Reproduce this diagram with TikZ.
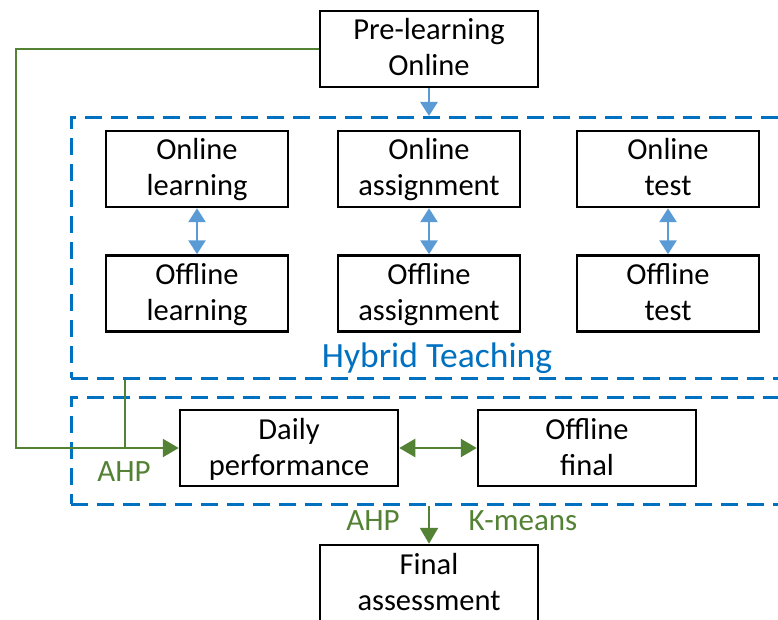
\documentclass[tikz,border=0pt]{standalone}
\usepackage{fontspec}
\setmainfont{Carlito}
\usetikzlibrary{arrows.meta, positioning}
\definecolor{dashblue}{RGB}{0,112,192}
\definecolor{arrowblue}{RGB}{91,155,213}
\definecolor{ahpgreen}{RGB}{84,130,53}

\begin{document}
\begin{tikzpicture}[x=1pt, y=-1pt,
  basic/.style  = {draw, line width=2.5pt, rectangle, align=center,
                   font=\fontsize{30.5}{36}\selectfont, inner sep=0pt,
                   text height=65pt, text depth=11pt},
  wide/.style   = {basic, minimum width=218pt, minimum height=76pt},
  small/.style  = {basic, minimum width=182pt, minimum height=76pt},
  group/.style  = {draw=dashblue, line width=2.8pt, dash pattern=on 17pt off 9pt,
                   rectangle, anchor=north west, inner sep=0pt},
  label/.style  = {text=ahpgreen, font=\fontsize{31}{36}\selectfont},
  blue arrow/.style  = {arrowblue, line width=2.8pt,
                        -{Triangle[width=17pt, length=14pt]}},
  green line/.style  = {ahpgreen, line width=2.5pt},
  green arrow/.style = {green line, -{Triangle[width=18pt, length=16pt]}}]

\useasboundingbox (0,0) rectangle (778,620);

% dashed groups
\node[group, minimum width=730pt, minimum height=261pt] (hybrid) at (70,116) {};
\node[group, minimum width=730pt, minimum height=107pt] (eval) at (70,396) {};
\node[text=dashblue, font=\fontsize{35.5}{40}\selectfont] (hybridtext) at (437,358) {Hybrid Teaching};

% top and bottom
\node[wide] (pre) at (429,49) {Pre-learning\\Online};
\node[wide] (assess) at (429,583) {Final\\assessment};

% the hybrid teaching pairs
\node[small] (ol) at (197,169) {Online\\learning};
\node[small] (oa) at (429,169) {Online\\assignment};
\node[small] (ot) at (668,169) {Online\\test};
\node[small, below=46pt of ol] (fl) {Offline\\learning};
\node[small, below=46pt of oa] (fa) {Offline\\assignment};
\node[small, below=46pt of ot] (ft) {Offline\\test};

% evaluation row
\node[wide] (daily) at (289,448) {Daily\\performance};
\node[wide] (offfinal) at (587,448) {Offline\\final};

% blue arrows
\draw[blue arrow] (pre.south) -- (pre.south |- hybrid.north);
\foreach \name in {l,a,t}
  \draw[blue arrow, {Triangle[width=17pt, length=14pt]}-{Triangle[width=17pt, length=14pt]}]
    (o\name.south) -- (f\name.north);

% green connections
\coordinate (corner) at (16,448);
\coordinate (join) at (125,448);
\draw[green arrow] (pre.west) -| (corner) -- (daily.west);
\draw[green line] (join |- hybrid.south) -- (join);
\draw[green arrow, {Triangle[width=18pt, length=16pt]}-{Triangle[width=18pt, length=16pt]}]
  (daily.east) -- (offfinal.west);
\draw[green arrow] (assess.north |- eval.south) -- (assess.north);

% method labels
\node[label] (ahpleft) at (124,472) {AHP};
\node[label] (ahpmid) at (373,521) {AHP};
\node[label] (kmeans) at (523,521) {K-means};

\end{tikzpicture}
\end{document}
